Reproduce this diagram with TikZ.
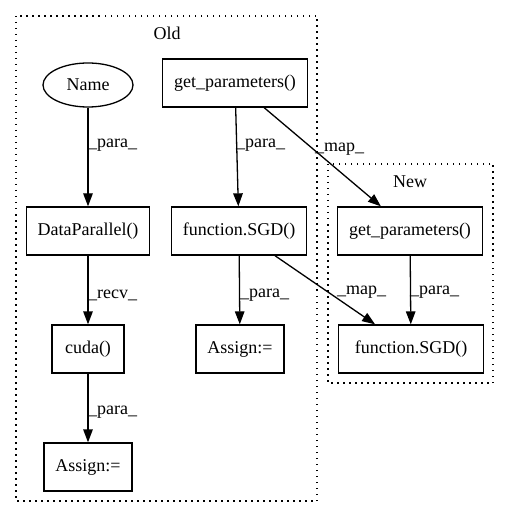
\documentclass[tikz,border=0pt]{standalone}
\usepackage{fontspec}
\setmainfont{Liberation Serif}
\usetikzlibrary{arrows.meta,shapes.geometric}
\begin{document}
\begin{tikzpicture}[x=1pt,y=-1pt, font=\fontsize{18}{20}\selectfont,
 box/.style={draw, line width=1.3pt, minimum height=48pt, inner sep=0pt},
 oval/.style={draw, ellipse, line width=1.3pt, minimum width=90pt, minimum height=44pt, inner sep=0pt},
 cluster/.style={draw, line width=1.3pt, dash pattern=on 1.5pt off 4.5pt},
 edge/.style={draw, line width=1.3pt, -{Triangle[length=13pt,width=9.5pt]}},
 lbl/.style={anchor=west, inner sep=0pt}]
\useasboundingbox (0,0) rectangle (509,518);
\draw[cluster] (16,16) rectangle (317,501);
\draw[cluster] (328,164) rectangle (493,383);
\node (oldlbl) at (167,33) {Old};
\node (newlbl) at (410,182) {New};
\node[oval] (name) at (88,85) {Name};
\node[box, minimum width=145pt] (gpold) at (235,83) {get\_parameters()};
\node[box, minimum width=123pt] (dp) at (88,231) {DataParallel()};
\node[box, minimum width=135pt] (sgdold) at (239,231) {function.SGD()};
\node[box, minimum width=72pt] (cuda) at (88,349) {cuda()};
\node[box, minimum width=88pt] (asg1) at (240,349) {Assign:=};
\node[box, minimum width=88pt] (asg2) at (88,467) {Assign:=};
\node[box, minimum width=145pt] (gpnew) at (410,231) {get\_parameters()};
\node[box, minimum width=145pt] (sgdnew) at (411,349) {function.SGD()};
\draw[edge] (name) -- (dp);
\draw[edge] (gpold) -- (sgdold);
\draw[edge] (gpold) -- (gpnew);
\draw[edge] (dp) -- (cuda);
\draw[edge] (sgdold) -- (asg1);
\draw[edge] (sgdold) -- (sgdnew);
\draw[edge] (cuda) -- (asg2);
\draw[edge] (gpnew) -- (sgdnew);
\node[lbl] (l1) at (88,145) {\_para\_};
\node[lbl] (l2) at (236,145) {\_para\_};
\node[lbl] (l3) at (315,149) {\_map\_};
\node[lbl] (l4) at (88,295) {\_recv\_};
\node[lbl] (l5) at (240,295) {\_para\_};
\node[lbl] (l6) at (88,412) {\_para\_};
\node[lbl] (l7) at (337,292) {\_map\_};
\node[lbl] (l8) at (410,292) {\_para\_};
\end{tikzpicture}
\end{document}
